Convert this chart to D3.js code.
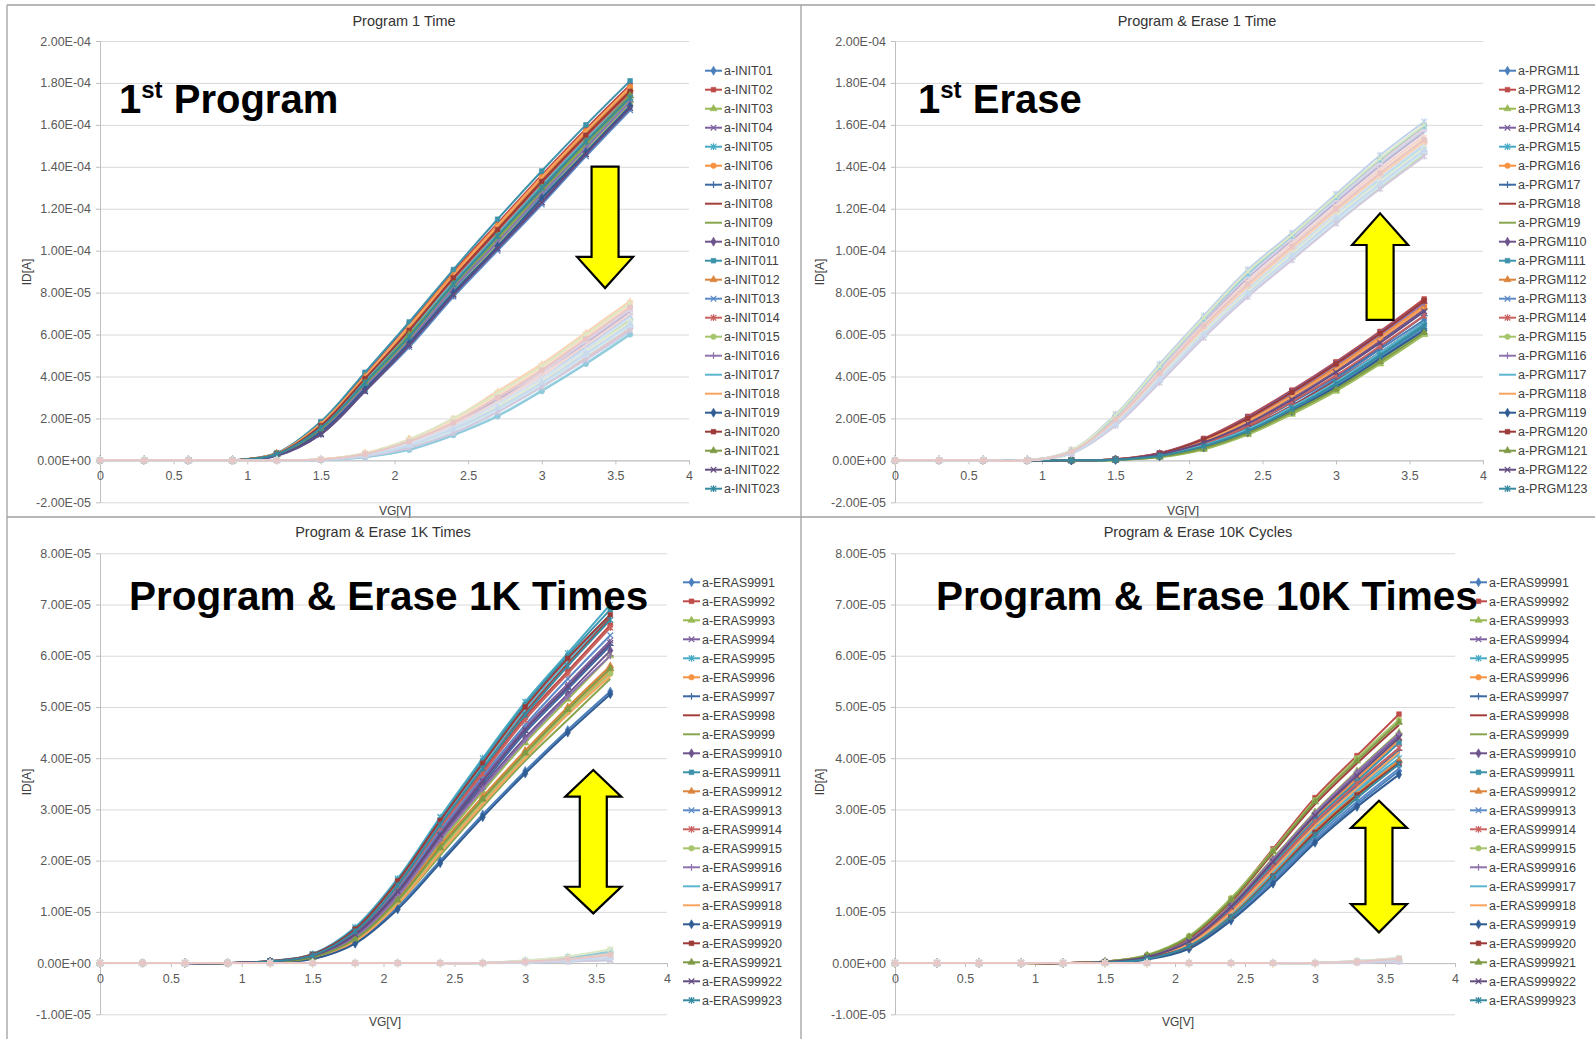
<!DOCTYPE html>
<html>
<head>
<meta charset="utf-8">
<script src="https://cdn.jsdelivr.net/npm/d3@7"></script>
<style>
body { margin: 0; background: #fff; }
svg { display: block; font-family: "Liberation Sans", Arial, sans-serif; }
</style>
</head>
<body>
<svg id="chart" width="1595" height="1039"></svg>
<script>
// gate voltage sweep (V), current values in uA (1E-6 A)
var vg = [0, 0.3, 0.6, 0.9, 1.2, 1.5, 1.8, 2.1, 2.4, 2.7, 3.0, 3.3, 3.6];
var vgTicks = [0, 0.5, 1, 1.5, 2, 2.5, 3, 3.5, 4];
var yTicksTop = [-20, 0, 20, 40, 60, 80, 100, 120, 140, 160, 180, 200];
var yTicksBottom = [-10, 0, 10, 20, 30, 40, 50, 60, 70, 80];

// Program 1 Time : legend series (a-INIT0..) and the faint programmed curves
var prog1Curves = [
  [0,0,0,0,3.0,15.5,37,60,85,108,131,153,175],
  [0,0,0,0,3.4,17.5,41,65,90,113,136,158,179],
  [0,0,0,0,2.6,14,35,58,82,105,127,150,172],
  [0,0,0,0,2.1,12.5,33,55,79,101,123,146,168],
  [0,0,0,0,2.4,13,34,57,81,104,126,149,171],
  [0,0,0,0,3.2,17,40,64,89,112,135,157,178],
  [0,0,0,0,2.8,15,36,59,83,106,129,151,173],
  [0,0,0,0,3.1,16.5,39,62,87,110,133,155,176],
  [0,0,0,0,2.7,14.5,36,58,83,106,128,151,173],
  [0,0,0,0,2.3,13,34,55,79,102,124,147,169],
  [0,0,0,0,3.5,18.5,42,66,91,115,138,160,181],
  [0,0,0,0,3.3,17,40,63,88,111,134,156,177],
  [0,0,0,0,2.2,12.5,33,54,78,100,122,145,167],
  [0,0,0,0,2.9,16,38,61,86,109,132,154,175],
  [0,0,0,0,2.5,13.5,34,56,80,103,125,148,170],
  [0,0,0,0,2.6,14,35,57,82,104,127,149,171],
  [0,0,0,0,3.0,16,38,61,85,108,131,153,174],
  [0,0,0,0,3.3,17.5,40,64,88,112,135,157,178],
  [0,0,0,0,2.4,13.5,34,56,80,102,125,147,169],
  [0,0,0,0,3.1,16.5,39,62,87,110,133,155,176],
  [0,0,0,0,2.8,15,37,60,84,107,130,152,174],
  [0,0,0,0,2.3,12.5,33,55,79,101,123,146,168],
  [0,0,0,0,2.9,15.5,37,59,84,107,130,152,173]
];
var prog1Faint = [
  [0,0,0,0,0,0.4,3.0,9,18,30,43,58,73],
  [0,0,0,0,0,0.3,2.2,7,15,25,37,51,65],
  [0,0,0,0,0,0.5,3.4,10,20,32,45,60,75],
  [0,0,0,0,0,0.2,1.8,6,13,23,35,48,62],
  [0,0,0,0,0,0.1,1.5,5,12,21,33,46,60],
  [0,0,0,0,0,0.5,3.5,10,20,33,46,61,76],
  [0,0,0,0,0,0.3,2.5,8,16,27,39,53,68],
  [0,0,0,0,0,0.4,2.8,8.5,17,28,41,55,70],
  [0,0,0,0,0,0.3,2.3,7,15,26,38,52,66],
  [0,0,0,0,0,0.4,3.1,9,18,30,42,57,72],
  [0,0,0,0,0,0.2,2.0,6.5,14,24,36,50,64],
  [0,0,0,0,0,0.4,3.2,9.5,19,31,44,59,74],
  [0,0,0,0,0,0.3,2.6,8,16,27,39,54,69],
  [0,0,0,0,0,0.2,1.9,6,14,24,36,49,63],
  [0,0,0,0,0,0.3,2.4,7.5,15,26,38,52,67],
  [0,0,0,0,0,0.4,2.9,9,18,29,42,56,71],
  [0,0,0,0,0,0.1,1.6,5.2,12.5,21.5,33.5,46.5,61],
  [0,0,0,0,0,0.5,3.3,10,19.5,32,45,60,75],
  [0,0,0,0,0,0.3,2.1,7,14.5,25,37,51,65],
  [0,0,0,0,0,0.4,2.7,8.5,17,28,40,55,70],
  [0,0,0,0,0,0.2,2.0,6.5,14,24,35,49,63],
  [0,0,0,0,0,0.4,3.0,9,18,29,42,57,72],
  [0,0,0,0,0,0.3,2.4,7.5,16,26,38,52,67]
];

// Program & Erase 1 Time
var erase1Curves = [
  [0,0,0,0,0,0.3,2.3,7,15,26,39,53,67],
  [0,0,0,0,0,0.5,3.5,10.5,21,33.5,47,61.5,77],
  [0,0,0,0,0,0.2,1.5,5.2,12.3,22,33,46,60],
  [0,0,0,0,0,0.5,3.4,10,20.5,33,46.5,61,76],
  [0,0,0,0,0,0.3,2.1,6.5,14,24.5,36,50,64],
  [0,0,0,0,0,0.4,3.2,9.5,19.5,31.5,44.5,59,74],
  [0,0,0,0,0,0.3,2.6,8,16.5,27.5,40,54,69],
  [0,0,0,0,0,0.3,2.4,7.5,15.5,26,38,51.5,66],
  [0,0,0,0,0,0.2,1.8,6,13,23,34.5,48,62],
  [0,0,0,0,0,0.4,3.0,9,18.5,30,43,57,72],
  [0,0,0,0,0,0.3,2.2,7,14.5,25,37,51,65],
  [0,0,0,0,0,0.4,3.1,9.5,19,31,44,58,73],
  [0,0,0,0,0,0.3,2.0,6.5,14,24,35.5,49,63],
  [0,0,0,0,0,0.3,2.7,8,16.5,28,40.5,54.5,69],
  [0,0,0,0,0,0.2,1.6,5.5,12.5,22.5,33.5,46.5,60.5],
  [0,0,0,0,0,0.4,3.3,10,20,32,45.5,60,75],
  [0,0,0,0,0,0.3,2.3,7.2,15,25.5,37.5,51.5,66],
  [0,0,0,0,0,0.4,3.0,9.2,18.5,30.5,43.5,58,73],
  [0,0,0,0,0,0.3,1.9,6.2,13.5,23.5,35,48.5,62],
  [0,0,0,0,0,0.5,3.3,10,20,32.5,46,60.5,76],
  [0,0,0,0,0,0.2,1.7,5.8,13,23,34,47,61],
  [0,0,0,0,0,0.4,2.8,8.5,17.5,29,42,56,71],
  [0,0,0,0,0,0.3,2.1,6.8,14,24.5,36.5,50,64]
];
var erase1Faint = [
  [0,0,0,0,4.2,19.5,41.5,64,84,102,120,137,153],
  [0,0,0,0,3.5,17.5,38.5,60,79.5,97.5,115.5,132,148],
  [0,0,0,0,4.8,21.5,45,68,90,107.5,126,144,160],
  [0,0,0,0,3.2,16.5,37,58.5,78,95.5,113,129.5,145],
  [0,0,0,0,4.5,21,44.5,67.5,89,107,125.5,143.5,159.5],
  [0,0,0,0,4.0,19,41,63,83,101,119,136,152],
  [0,0,0,0,3.8,18.5,40,62,82,100,118,135,151],
  [0,0,0,0,4.3,20,42.5,65,85.5,103.5,121.5,139,155],
  [0,0,0,0,3.6,18,39,61,80.5,98.5,116.5,133,149],
  [0,0,0,0,4.6,21,44,67,88,106,124.5,142,158],
  [0,0,0,0,3.4,17,38,59.5,79,96.5,114,131,147],
  [0,0,0,0,4.1,19.5,42,64.5,85,103,121,138.5,154],
  [0,0,0,0,4.9,22,46,69,91,108.5,127,145.5,161.5],
  [0,0,0,0,3.9,18.5,40.5,62.5,82.5,100.5,118.5,135.5,151.5],
  [0,0,0,0,3.3,17,37.5,59,78.5,96,113.5,130,146],
  [0,0,0,0,4.4,20.5,43,66,87,105,123,140.5,156.5],
  [0,0,0,0,3.7,18,39.5,61.5,81,99,117,134,150],
  [0,0,0,0,4.7,21.5,45,68,89.5,107,125.5,143,159],
  [0,0,0,0,3.5,17.5,38,60,79.5,97,115,131.5,147.5],
  [0,0,0,0,4.2,20,42,64.5,84.5,102.5,120.5,137.5,153.5],
  [0,0,0,0,4.0,19,41,63,83.5,101.5,119.5,136.5,152.5],
  [0,0,0,0,3.8,18.5,39.5,61.5,81.5,99.5,117.5,134.5,150.5],
  [0,0,0,0,4.5,20.5,43.5,66.5,87.5,105.5,124,141.5,157.5]
];

// Program & Erase 1K Times
var pe1kCurves = [
  [0,0,0,0,0.2,0.8,4,11,20,29,37.5,45.5,53],
  [0,0,0,0,0.3,1.5,6,15,26.5,37.5,48,57,66],
  [0,0,0,0,0.2,1.2,5,13,23.5,33.5,43,51.5,60],
  [0,0,0,0,0.3,1.4,5.7,14.5,25.5,36,46,54.5,63],
  [0,0,0,0,0.4,1.8,7,16.5,28.5,40,51,60.5,70],
  [0,0,0,0,0.2,1.0,4.5,12,22,31.5,40.5,49,57],
  [0,0,0,0,0.3,1.3,5.5,14,25,35,45,53.5,62],
  [0,0,0,0,0.3,1.6,6.3,15.5,27.5,38.5,49,58.5,67.5],
  [0,0,0,0,0.2,0.9,4.3,11.5,21,30.5,39.5,47.5,55.5],
  [0,0,0,0,0.3,1.3,5.3,13.5,24.5,34.5,44,52.5,61],
  [0,0,0,0,0.4,1.7,6.8,16.2,28,39.5,50.5,60,69],
  [0,0,0,0,0.2,1.1,4.8,12.5,23,32.5,41.5,50,58],
  [0,0,0,0,0.3,1.4,5.8,14.5,26,36.5,46.5,55.5,64],
  [0,0,0,0,0.3,1.5,6.1,15,26.5,37,47.5,56.5,65.5],
  [0,0,0,0,0.2,1.0,4.6,12,22,31.5,40.5,49,56.5],
  [0,0,0,0,0.2,1.2,5,13,24,34,43.5,52,60],
  [0,0,0,0,0.3,1.6,6.5,15.8,27.5,38.5,49.5,59,68],
  [0,0,0,0,0.2,0.9,4.2,11.5,21.5,31,40,48.5,56],
  [0,0,0,0,0.2,0.8,3.8,10.5,19.5,28.5,37,45,52.5],
  [0,0,0,0,0.4,1.7,6.6,16,27.8,39,50,59.5,68],
  [0,0,0,0,0.2,1.1,4.7,12.3,22.5,32,41,49.5,57.5],
  [0,0,0,0,0.3,1.4,5.6,14,25,35.5,45.5,54,62.5],
  [0,0,0,0,0.3,1.5,6.2,15.2,27,38,48.5,58,67]
];
var pe1kFaint = [
  [0,0,0,0,0,0,0,0,0,0,0.3,0.8,1.6],
  [0,0,0,0,0,0,0,0,0,0,0.2,0.5,1.0],
  [0,0,0,0,0,0,0,0,0,0,0.5,1.3,2.7],
  [0,0,0,0,0,0,0,0,0,0,0.1,0.3,0.6],
  [0,0,0,0,0,0,0,0,0,0,0.4,1.1,2.2],
  [0,0,0,0,0,0,0,0,0,0,0.3,0.9,1.8],
  [0,0,0,0,0,0,0,0,0,0,0.2,0.6,1.2],
  [0,0,0,0,0,0,0,0,0,0,0.4,1.0,2.0],
  [0,0,0,0,0,0,0,0,0,0,0.1,0.4,0.8],
  [0,0,0,0,0,0,0,0,0,0,0.3,0.7,1.4],
  [0,0,0,0,0,0,0,0,0,0,0.5,1.2,2.5],
  [0,0,0,0,0,0,0,0,0,0,0.2,0.6,1.1],
  [0,0,0,0,0,0,0,0,0,0,0.3,0.8,1.7],
  [0,0,0,0,0,0,0,0,0,0,0.4,1.0,2.1],
  [0,0,0,0,0,0,0,0,0,0,0.2,0.5,0.9],
  [0,0,0,0,0,0,0,0,0,0,0.3,0.9,1.9],
  [0,0,0,0,0,0,0,0,0,0,0.1,0.3,0.5],
  [0,0,0,0,0,0,0,0,0,0,0.4,1.1,2.3],
  [0,0,0,0,0,0,0,0,0,0,0.2,0.7,1.3],
  [0,0,0,0,0,0,0,0,0,0,0.3,0.8,1.5],
  [0,0,0,0,0,0,0,0,0,0,0.5,1.2,2.4],
  [0,0,0,0,0,0,0,0,0,0,0.2,0.4,0.7],
  [0,0,0,0,0,0,0,0,0,0,0.3,0.9,1.8]
];

// Program & Erase 10K Cycles
var pe10kCurves = [
  [0,0,0,0,0,0.1,0.8,3,8.6,16,24,31,37.5],
  [0,0,0,0,0,0.3,1.5,5,12.5,22.3,32.3,40.5,48.6],
  [0,0,0,0,0,0.2,1.3,4.5,11.5,20.5,29.5,37.5,45],
  [0,0,0,0,0,0.2,1.1,4,10.5,19,27.5,35,42],
  [0,0,0,0,0,0.1,0.9,3.5,9.5,17.5,26,33.5,40],
  [0,0,0,0,0,0.2,1.2,4.2,11,19.5,28.5,36,43.5],
  [0,0,0,0,0,0.2,1.0,3.8,10,18.5,27,34.5,41.5],
  [0,0,0,0,0,0.3,1.4,4.8,12,21.5,31,39,46.5],
  [0,0,0,0,0,0.1,0.9,3.4,9.3,17,25.5,32.5,39.5],
  [0,0,0,0,0,0.2,1.2,4.3,11.2,20,29,37,44.5],
  [0,0,0,0,0,0.2,1.1,4.1,10.8,19.3,28,35.5,43],
  [0,0,0,0,0,0.1,0.9,3.3,9.2,17.2,25.8,33,39.5],
  [0,0,0,0,0,0.1,0.8,3.1,8.8,16.3,24.5,31.5,38],
  [0,0,0,0,0,0.2,1.0,3.9,10.2,18.8,27.5,35,42],
  [0,0,0,0,0,0.3,1.6,5.3,12.7,22,31.8,40,47.5],
  [0,0,0,0,0,0.2,1.3,4.4,11.3,20.3,29.3,37.3,44.8],
  [0,0,0,0,0,0.1,0.9,3.6,9.7,17.8,26.3,33.8,40.8],
  [0,0,0,0,0,0.2,1.0,3.7,9.9,18.2,26.8,34.2,41.2],
  [0,0,0,0,0,0.1,0.7,2.8,8.3,15.5,23.5,30.5,36.8],
  [0,0,0,0,0,0.2,1.0,3.2,9,17,25.5,32.8,39],
  [0,0,0,0,0,0.3,1.5,5.1,12.3,21.8,31.5,39.5,47],
  [0,0,0,0,0,0.2,1.2,4.2,11,19.8,28.8,36.5,44],
  [0,0,0,0,0,0.1,0.8,3.3,9,16.8,25,32.2,38.8]
];
var pe10kFaint = [
  [0,0,0,0,0,0,0,0,0,0,0,0.3,0.8],
  [0,0,0,0,0,0,0,0,0,0,0,0.2,0.5],
  [0,0,0,0,0,0,0,0,0,0,0,0.4,1.0],
  [0,0,0,0,0,0,0,0,0,0,0,0.1,0.3],
  [0,0,0,0,0,0,0,0,0,0,0,0.3,0.7],
  [0,0,0,0,0,0,0,0,0,0,0,0.2,0.6],
  [0,0,0,0,0,0,0,0,0,0,0,0.4,0.9],
  [0,0,0,0,0,0,0,0,0,0,0,0.1,0.4],
  [0,0,0,0,0,0,0,0,0,0,0,0.3,0.8],
  [0,0,0,0,0,0,0,0,0,0,0,0.2,0.5],
  [0,0,0,0,0,0,0,0,0,0,0,0.3,0.7],
  [0,0,0,0,0,0,0,0,0,0,0,0.2,0.6],
  [0,0,0,0,0,0,0,0,0,0,0,0.4,0.9],
  [0,0,0,0,0,0,0,0,0,0,0,0.1,0.3],
  [0,0,0,0,0,0,0,0,0,0,0,0.3,0.8],
  [0,0,0,0,0,0,0,0,0,0,0,0.2,0.5],
  [0,0,0,0,0,0,0,0,0,0,0,0.3,0.7],
  [0,0,0,0,0,0,0,0,0,0,0,0.2,0.6],
  [0,0,0,0,0,0,0,0,0,0,0,0.4,1.0],
  [0,0,0,0,0,0,0,0,0,0,0,0.1,0.4],
  [0,0,0,0,0,0,0,0,0,0,0,0.3,0.8],
  [0,0,0,0,0,0,0,0,0,0,0,0.2,0.5],
  [0,0,0,0,0,0,0,0,0,0,0,0.3,0.6]
];

var seriesNo = [1,2,3,4,5,6,7,8,9,10,11,12,13,14,15,16,17,18,19,20,21,22,23];
var initNames = seriesNo.map(function (n) { return "a-INIT0" + n; });
var prgmNames = seriesNo.map(function (n) { return "a-PRGM1" + n; });
var eras1kNames = seriesNo.map(function (n) { return "a-ERAS999" + n; });
var eras10kNames = seriesNo.map(function (n) { return "a-ERAS9999" + n; });

var seriesColors = ['#4A7EBB','#BE4B48','#98B954','#7D60A0','#46AAC5','#F69240','#3C6AA5','#A23F3C','#89A54E','#6E548D','#3C93AB','#DB843D',
  '#5B8AC7','#C9625F','#A6C46B','#8F74AF','#5DB6CF','#F8A35F','#2F5C93','#9C3A37','#7E9A45','#634C80','#358AA0'];
var faintColors = ['#E8C6C5','#C9DAEE','#DCE8C6','#D2C8DE','#8FCBDC','#FBD3B3','#D5E2F2','#F0D6D5','#E4EDD3','#DDD5E7','#CDE8F0','#FCE0C8',
  '#BFD2EA','#E9C4C3','#CADDA8','#BFB2D2','#B4DDE8','#F9C9A0','#C6D9F1','#F2DCDB','#D7E4BD','#CCC1DA','#B7DEE8'];
var markerCycle = ["diamond","square","triangle","x","star","circle","plus","none","none"];
var faintMarkers = ["square","triangle","x","star","circle","plus","none","none","diamond"];

var panels = [
  { title: "Program 1 Time", tx: 404, ty: 21, names: initNames, curves: prog1Curves, faint: prog1Faint,
    x0: 100, x1: 689, yTop: 41, yBot: 502.3, yDom: [-20, 200], yTicks: yTicksTop,
    legX: 705, legY: 70.7, ylx: 27, yly: 272, xlx: 395, xly: 511,
    note: { x: 119, y: 113, big: "1", sup: "st", rest: " Program" },
    arrow: { cx: 3.43, top: 140.1, bottom: 82.2, bottomHead: 97 } },
  { title: "Program & Erase 1 Time", tx: 1197, ty: 21, names: prgmNames, curves: erase1Curves, faint: erase1Faint,
    x0: 895, x1: 1483, yTop: 41, yBot: 502.3, yDom: [-20, 200], yTicks: yTicksTop,
    legX: 1499, legY: 70.7, ylx: 820, yly: 272, xlx: 1183, xly: 511,
    note: { x: 918, y: 113, big: "1", sup: "st", rest: " Erase" },
    arrow: { cx: 3.30, top: 117.8, topHead: 102.7, bottom: 67 } },
  { title: "Program & Erase 1K Times", tx: 383, ty: 532, names: eras1kNames, curves: pe1kCurves, faint: pe1kFaint,
    x0: 100, x1: 667, yTop: 553.3, yBot: 1014.3, yDom: [-10, 80], yTicks: yTicksBottom,
    legX: 683, legY: 582.3, ylx: 27, yly: 782, xlx: 385, xly: 1022,
    note: { x: 129, y: 610, rest: "Program & Erase 1K Times" },
    arrow: { cx: 3.48, top: 37.7, topHead: 32.5, bottom: 9.7, bottomHead: 14.9 } },
  { title: "Program & Erase 10K Cycles", tx: 1198, ty: 532, names: eras10kNames, curves: pe10kCurves, faint: pe10kFaint,
    x0: 895, x1: 1455, yTop: 553.3, yBot: 1014.3, yDom: [-10, 80], yTicks: yTicksBottom,
    legX: 1470, legY: 582.3, ylx: 820, yly: 782, xlx: 1178, xly: 1022,
    note: { x: 936, y: 610, rest: "Program & Erase 10K Times" },
    arrow: { cx: 3.457, top: 31.7, topHead: 26.4, bottom: 6.0, bottomHead: 11.5 } }
];

var svg = d3.select("#chart");
svg.append("rect").attr("width", 1595).attr("height", 1039).attr("fill", "#fff");

function sci(v) {
  var a = v * 1e-6;
  if (a === 0) return "0.00E+00";
  var e = Math.floor(Math.log10(Math.abs(a)) + 1e-9);
  var m = a / Math.pow(10, e);
  if (Math.abs(m) >= 9.995) { m /= 10; e++; }
  return m.toFixed(2) + "E" + (e < 0 ? "-" : "+") + String(Math.abs(e)).padStart(2, "0");
}

function marker(g, type, cx, cy, color) {
  if (type === "none") return;
  var filled = { diamond: [d3.symbolDiamond, 24], square: [d3.symbolSquare, 22], triangle: [d3.symbolTriangle, 22], circle: [d3.symbolCircle, 24] };
  if (filled[type]) {
    g.append("path").attr("d", d3.symbol().type(filled[type][0]).size(filled[type][1])())
      .attr("transform", "translate(" + cx + "," + cy + ")")
      .attr("fill", color).attr("stroke", color).attr("stroke-width", 0.6);
  } else {
    var d = { x: "M-2.8,-2.8L2.8,2.8M-2.8,2.8L2.8,-2.8", star: "M-2.8,-2.8L2.8,2.8M-2.8,2.8L2.8,-2.8M0,-3.4L0,3.4", plus: "M-3.4,0L3.4,0M0,-3.4L0,3.4" }[type];
    g.append("path").attr("d", d).attr("transform", "translate(" + cx + "," + cy + ")")
      .attr("fill", "none").attr("stroke", color).attr("stroke-width", 1.2);
  }
}

function drawPanel(p) {
  var g = svg.append("g");
  var x = d3.scaleLinear().domain([0, 4]).range([p.x0, p.x1]);
  var y = d3.scaleLinear().domain(p.yDom).range([p.yBot, p.yTop]);

  // gridlines
  g.append("g").attr("transform", "translate(" + p.x0 + ",0)")
    .call(d3.axisLeft(y).tickValues(p.yTicks).tickSize(-(p.x1 - p.x0)).tickFormat(""))
    .call(function (s) { s.select(".domain").remove(); s.selectAll("line").attr("stroke", "#D9D9D9"); });

  // y axis
  var ya = g.append("g").attr("transform", "translate(" + p.x0 + ",0)")
    .call(d3.axisLeft(y).tickValues(p.yTicks).tickSize(4).tickSizeOuter(0).tickPadding(5).tickFormat(sci));
  ya.attr("font-family", null).attr("font-size", 12.5);
  ya.select(".domain").attr("stroke", "#BFBFBF");
  ya.selectAll("line").attr("stroke", "#BFBFBF");
  ya.selectAll("text").attr("fill", "#595959");

  // x axis crossing at 0
  var xa = g.append("g").attr("transform", "translate(0," + y(0) + ")")
    .call(d3.axisBottom(x).tickValues(vgTicks).tickSize(4).tickSizeOuter(0).tickPadding(7).tickFormat(function (d) { return String(d); }));
  xa.attr("font-family", null).attr("font-size", 12.5);
  xa.select(".domain").attr("stroke", "#BFBFBF");
  xa.selectAll("line").attr("stroke", "#BFBFBF");
  xa.selectAll("text").attr("fill", "#595959");

  var line = d3.line().x(function (d, i) { return x(vg[i]); }).y(function (d) { return y(d); })
    .curve(d3.curveCatmullRom.alpha(0.5));

  p.curves.forEach(function (row, i) {
    var c = seriesColors[i];
    g.append("path").datum(row).attr("d", line).attr("fill", "none").attr("stroke", c).attr("stroke-width", 2);
    row.forEach(function (v, j) { marker(g, markerCycle[i % 9], x(vg[j]), y(v), c); });
  });
  for (var i = p.faint.length - 1; i >= 0; i--) {
    var row = p.faint[i], c = faintColors[i];
    g.append("path").datum(row).attr("d", line).attr("fill", "none").attr("stroke", c).attr("stroke-width", 2);
    row.forEach(function (v, j) { marker(g, faintMarkers[i % 9], x(vg[j]), y(v), c); });
  }

  // legend
  p.names.forEach(function (name, i) {
    var ly = p.legY + i * 19, c = seriesColors[i];
    g.append("line").attr("x1", p.legX).attr("x2", p.legX + 17).attr("y1", ly).attr("y2", ly)
      .attr("stroke", c).attr("stroke-width", 2);
    marker(g, markerCycle[i % 9], p.legX + 8.5, ly, c);
    g.append("text").attr("x", p.legX + 19).attr("y", ly).attr("dy", "0.35em")
      .attr("font-size", 12.5).attr("fill", "#404040").text(name);
  });

  // titles
  g.append("text").attr("x", p.tx).attr("y", p.ty).attr("dy", "0.35em").attr("text-anchor", "middle")
    .attr("font-size", 14.5).attr("fill", "#333").text(p.title);
  g.append("text").attr("transform", "translate(" + p.ylx + "," + p.yly + ") rotate(-90)")
    .attr("dy", "0.35em").attr("text-anchor", "middle").attr("font-size", 12).attr("fill", "#404040").text("ID[A]");
  g.append("text").attr("x", p.xlx).attr("y", p.xly).attr("dy", "0.35em").attr("text-anchor", "middle")
    .attr("font-size", 12).attr("fill", "#404040").text("VG[V]");

  // big annotation
  var t = g.append("text").attr("x", p.note.x).attr("y", p.note.y).attr("font-weight", "bold")
    .attr("font-size", p.note.sup ? 40 : 40.5).attr("fill", "#000");
  if (p.note.sup) {
    t.append("tspan").text(p.note.big);
    t.append("tspan").attr("font-size", 24).attr("dy", -15).text(p.note.sup);
    t.append("tspan").attr("dy", 15).text(p.note.rest);
  } else {
    t.text(p.note.rest);
  }

  // yellow arrow
  var a = p.arrow, cx = x(a.cx), sw = 13.5, hw = 28, pts = [];
  if (a.topHead !== undefined) {
    pts.push([cx, y(a.top)], [cx + hw, y(a.topHead)], [cx + sw, y(a.topHead)]);
  } else {
    pts.push([cx - sw, y(a.top)], [cx + sw, y(a.top)]);
  }
  if (a.bottomHead !== undefined) {
    pts.push([cx + sw, y(a.bottomHead)], [cx + hw, y(a.bottomHead)], [cx, y(a.bottom)], [cx - hw, y(a.bottomHead)], [cx - sw, y(a.bottomHead)]);
  } else {
    pts.push([cx + sw, y(a.bottom)], [cx - sw, y(a.bottom)]);
  }
  if (a.topHead !== undefined) pts.push([cx - sw, y(a.topHead)], [cx - hw, y(a.topHead)]);
  g.append("polygon").attr("points", pts.map(function (q) { return q.join(","); }).join(" "))
    .attr("fill", "#FFFF00").attr("stroke", "#000").attr("stroke-width", 2.2).attr("stroke-linejoin", "miter");
}

panels.forEach(drawPanel);

// panel frames
var frame = svg.append("g").attr("stroke", "#A0A0A0").attr("stroke-width", 1.3);
frame.append("line").attr("x1", 7).attr("x2", 1595).attr("y1", 5).attr("y2", 5);
frame.append("line").attr("x1", 7).attr("x2", 7).attr("y1", 5).attr("y2", 1039);
frame.append("line").attr("x1", 801).attr("x2", 801).attr("y1", 5).attr("y2", 1039);
frame.append("line").attr("x1", 7).attr("x2", 1595).attr("y1", 517).attr("y2", 517);
</script>
</body>
</html>
